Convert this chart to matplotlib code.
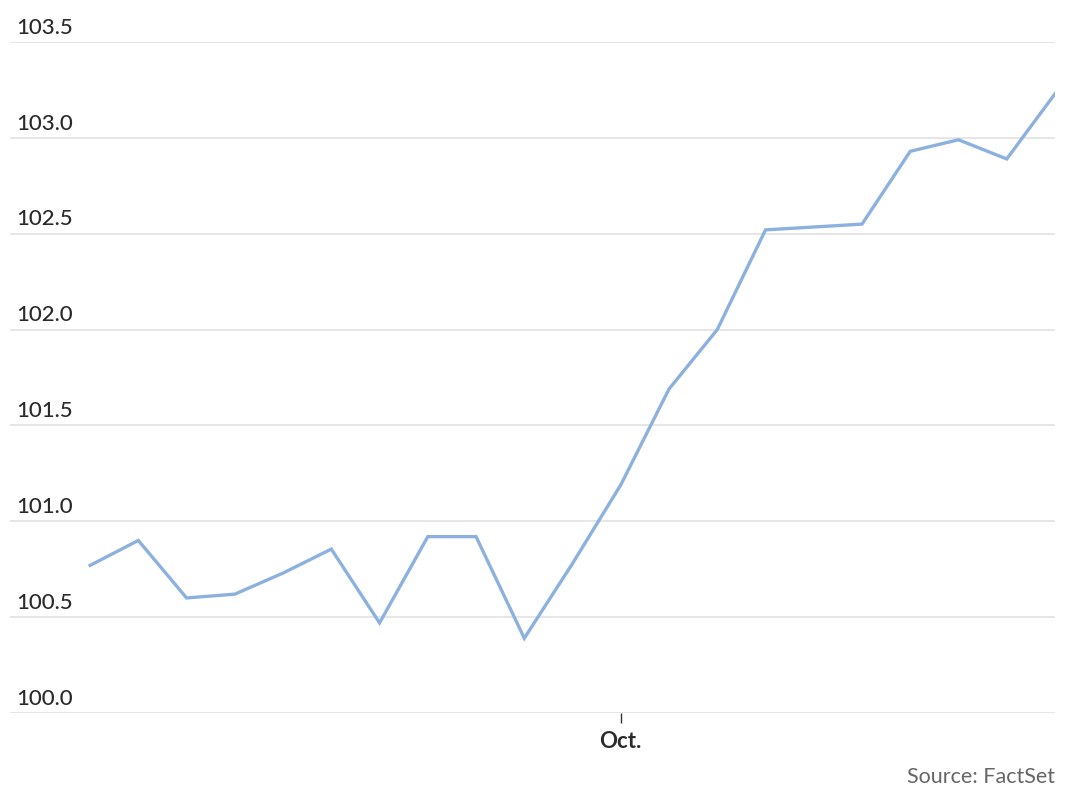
import matplotlib
matplotlib.use("Agg")
import matplotlib.pyplot as plt
from matplotlib.transforms import blended_transform_factory

values = [100.77, 100.90, 100.60, 100.62, 100.73, 100.855, 100.47, 100.92, 100.92,
          100.39, 100.78, 101.19, 101.69, 102.00, 102.52, 102.535, 102.55, 102.93,
          102.99, 102.89, 103.23]
y_ticks = [100.0, 100.5, 101.0, 101.5, 102.0, 102.5, 103.0, 103.5]
x_tick_index = [11]
x_tick_labels = ["Oct."]
source = "Source: FactSet"

plt.rcParams['font.family'] = ['Lato', 'DejaVu Sans']

fig = plt.figure(figsize=(10.8, 8), dpi=100)
ax = fig.add_axes([10/1080, 87/800, 1045/1080, 671/800])
x = list(range(len(values)))
ax.plot(x, values, color='#8DB1DE', lw=2.4, solid_joinstyle='miter', zorder=3)
ax.set_xlim(-1.66, len(values) - 1)
ax.set_ylim(100.0, 103.5)

for s in ax.spines.values():
    s.set_visible(False)
ax.set_yticks(y_ticks)
ax.yaxis.grid(True, color='#e2e2e2', lw=1.2)
ax.tick_params(axis='y', length=0, labelleft=False)
ax.set_xticks(x_tick_index)
ax.set_xticklabels(x_tick_labels, fontsize=16, fontweight='bold', color='#2b2b2b')
ax.tick_params(axis='x', length=7, width=1, color='#333333', pad=6)

tr = blended_transform_factory(fig.transFigure, ax.transData)
for v in y_ticks:
    ax.text(16/1080, v + 0.022, f"{v:.1f}", transform=tr, fontsize=16, color='#2b2b2b',
            ha='left', va='bottom', fontweight='medium')

fig.text(1055/1080, 1 - 777/800, source, ha='right', va='center', fontsize=15.5, color='#666666')
fig.savefig("out.png", dpi=100, facecolor='white')
